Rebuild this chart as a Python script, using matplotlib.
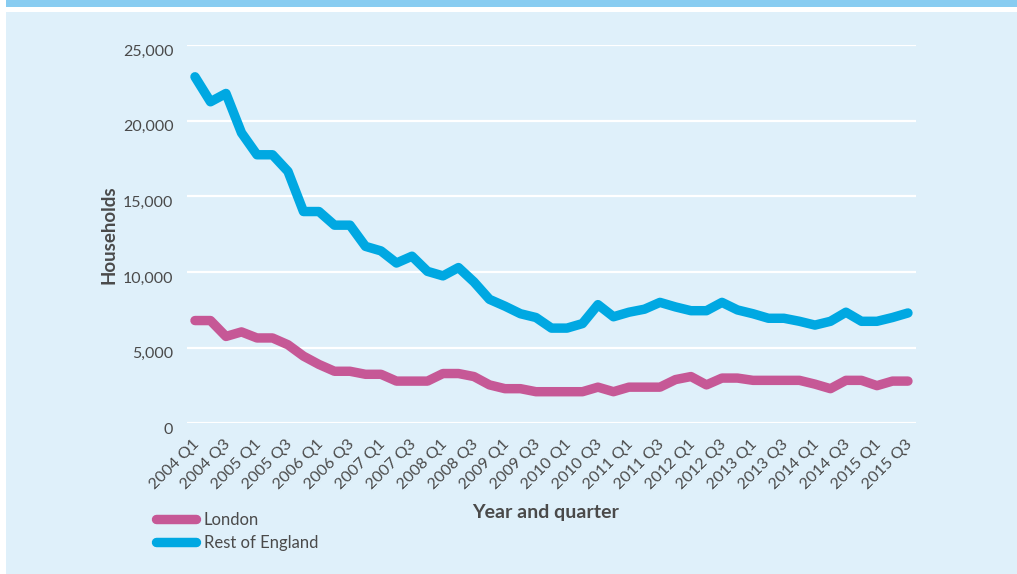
import numpy as np
import matplotlib
matplotlib.use("Agg")
import matplotlib.pyplot as plt
from matplotlib.patches import Rectangle
from matplotlib.transforms import ScaledTranslation

plt.rcParams['font.family'] = ['Lato', 'DejaVu Sans']

# quarters 2004 Q1 .. 2015 Q3
quarters = [f"{y} Q{q}" for y in range(2004, 2016) for q in range(1, 5)][:47]
tick_labels = quarters[::2]

london = [6800, 6800, 5750, 6050, 5650, 5650, 5200, 4450, 3900, 3450,
          3450, 3250, 3250, 2800, 2800, 2800, 3300, 3300, 3100, 2550,
          2300, 2300, 2100, 2100, 2100, 2100, 2400, 2100, 2400, 2400,
          2400, 2900, 3100, 2550, 3000, 3000, 2850, 2850, 2850, 2850,
          2600, 2300, 2850, 2850, 2500, 2800, 2800]
rest_of_england = [22900, 21250, 21800, 19200, 17750, 17750, 16650, 14000, 14000, 13100,
                   13100, 11700, 11400, 10600, 11050, 10050, 9750, 10300, 9350, 8200,
                   7750, 7250, 7000, 6300, 6300, 6600, 7850, 7050, 7350, 7550,
                   8000, 7700, 7450, 7450, 8000, 7500, 7250, 6950, 6950, 6750,
                   6500, 6750, 7350, 6750, 6750, 7000, 7300]

pink = '#C65896'
blue = '#00A8E2'
text_col = '#4a4a4a'
panel = '#DFF0FA'

fig = plt.figure(figsize=(10.17, 5.74), dpi=100)
fig.patch.set_facecolor('white')
fig.patches.append(Rectangle((6 / 1017, 0), 1, 562 / 574, transform=fig.transFigure,
                             facecolor=panel, edgecolor='none', zorder=-10))
fig.patches.append(Rectangle((6 / 1017, 567 / 574), 1, 7 / 574, transform=fig.transFigure,
                             facecolor='#88CCF1', edgecolor='none', zorder=-10))

ax = fig.add_axes([0.1841, 0.2622, 0.7163, 0.6594])
ax.set_facecolor(panel)
x = np.arange(len(quarters))

ax.plot(x, london, color=pink, lw=6.8, solid_capstyle='round', solid_joinstyle='round',
        label='London', zorder=3)
ax.plot(x, rest_of_england, color=blue, lw=6.8, solid_capstyle='round',
        solid_joinstyle='round', label='Rest of England', zorder=3)

ax.set_xlim(-0.5, 46.5)
ax.set_ylim(0, 25000)
ax.set_yticks(range(0, 25001, 5000))
ax.set_yticklabels([f"{v:,}" for v in range(0, 25001, 5000)])
ax.grid(axis='y', color='white', lw=1.6, zorder=1)
ax.set_axisbelow(True)
for s in ax.spines.values():
    s.set_visible(False)
ax.tick_params(length=0, colors=text_col, labelsize=11.5)
ax.tick_params(axis='y', pad=10)

ax.set_xticks(x[::2])
ax.set_xticklabels(tick_labels, rotation=45, ha='right', va='top')
offset = ScaledTranslation(7 / 100, -9 / 100, fig.dpi_scale_trans)
for lab in ax.get_xticklabels():
    lab.set_transform(lab.get_transform() + offset)
yoff = ScaledTranslation(0, -5 / 100, fig.dpi_scale_trans)
for lab in ax.get_yticklabels():
    lab.set_transform(lab.get_transform() + yoff)

ax.set_ylabel('Households', fontsize=13.5, fontweight='bold', color=text_col, labelpad=4)
fig.text(0.536, 0.108, 'Year and quarter', fontsize=14, fontweight='bold',
         color=text_col, ha='center', va='center')

fig.legend(loc='upper left', bbox_to_anchor=(0.139, 0.135), frameon=False,
           fontsize=12, handlelength=2.35, handletextpad=0.5, labelspacing=0.45,
           labelcolor=text_col)

fig.savefig('out.png', dpi=100, facecolor=fig.get_facecolor())
